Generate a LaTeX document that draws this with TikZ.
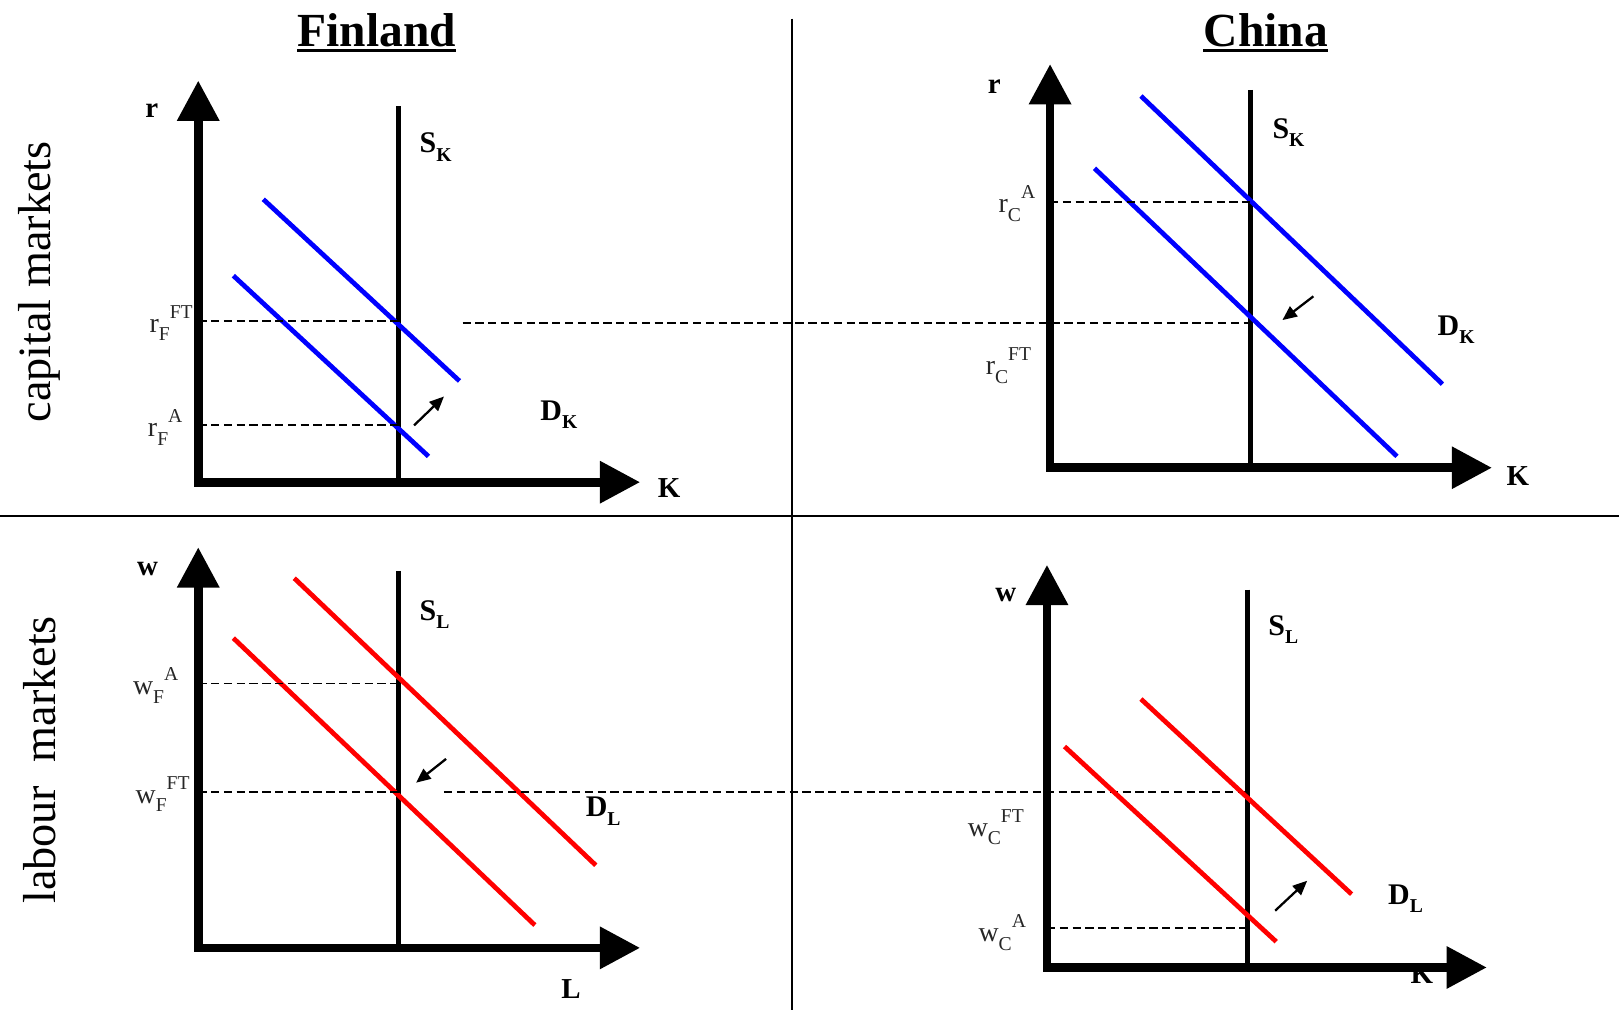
\documentclass[tikz,border=0pt]{standalone}
\usepackage{fontspec}
\setmainfont{Liberation Serif}
\usetikzlibrary{arrows.meta}

% price labels like r_F^FT, curve labels like S_K
\newcommand{\eqlab}[3]{#1\raisebox{-0.3em}{\fontsize{9.5}{9.5}\selectfont #2}\raisebox{0.5em}{\fontsize{9.5}{9.5}\selectfont #3}}
\newcommand{\crvlab}[2]{#1\raisebox{-0.28em}{\fontsize{9.5}{9.5}\selectfont #2}}

\tikzset{
  axes/.style={line width=4.2pt, line join=miter,
    {Triangle[length=19.5pt,width=19.5pt]}-{Triangle[length=19.5pt,width=19.5pt]}},
  supply/.style={line width=2.3pt},
  demK/.style={line width=2.3pt, draw=blue},
  demL/.style={line width=2.3pt, draw=red},
  guide/.style={line width=0.9pt, dash pattern=on 4pt off 2.2pt},
  shiftarr/.style={line width=1.1pt, -{Triangle[length=7pt,width=6pt]}},
  divider/.style={line width=0.8pt},
  title/.style={font=\fontsize{23}{26}\selectfont\bfseries, inner sep=0pt},
  sidelab/.style={font=\fontsize{22.4}{24}\selectfont, rotate=90, inner sep=0pt},
  axlab/.style={font=\fontsize{14}{16}\selectfont\bfseries, inner sep=0pt},
  crv/.style={font=\fontsize{14.5}{16}\selectfont\bfseries, inner sep=0pt, anchor=base west},
  price/.style={font=\fontsize{13.5}{15}\selectfont, inner sep=0pt, anchor=base east, text=black!85}
}

\begin{document}
\begin{tikzpicture}[x=0.5pt, y=-0.5pt]
    \useasboundingbox (0,0) rectangle (1568,978);

    % quadrant dividers
    \draw[divider] (767,18) -- (767,978);
    \draw[divider] (0,500) -- (1568,500);

    % titles
    \node[title] (fin) at (365,29) {Finland};
    \node[title] (chn) at (1226,29) {China};
    \draw[line width=1.7pt] ([yshift=-1.6pt]fin.south west) -- ([yshift=-1.6pt]fin.south east);
    \draw[line width=1.7pt] ([yshift=-1.6pt]chn.south west) -- ([yshift=-1.6pt]chn.south east);
    \node[sidelab] (capm) at (38,273) {capital markets};
    \node[sidelab] (labm) at (38,736) {labour\ \ markets};

    % Finland, capital market
    \draw[axes] (192,78) -- (192,467) -- (620,467);
    \node[axlab] (rF) at (147,107) {r};
    \node[axlab] (KF) at (648,473) {K};
    \draw[supply] (386,103) -- (386,467);
    \node[crv] (SKF) at (406,148) {\crvlab{S}{K}};
    \draw[demK] (255,193) -- (445,369);
    \draw[demK] (226,267) -- (415,442);
    \draw[guide] (192,311) -- (386,311);
    \draw[guide] (192,412) -- (386,412);
    \node[price] (rFFT) at (187,322) {\eqlab{r}{F}{FT}};
    \node[price] (rFA) at (177,423) {\eqlab{r}{F}{A}};
    \draw[shiftarr] (401,412) -- (430,384);
    \node[crv] (DKF) at (523,407) {\crvlab{D}{K}};

    % world interest rate under free trade
    \draw[guide] (448,313) -- (1211,313);

    % China, capital market
    \draw[axes] (1017,62) -- (1017,453) -- (1445,453);
    \node[axlab] (rC) at (963,84) {r};
    \node[axlab] (KC) at (1470,461) {K};
    \draw[supply] (1211,87) -- (1211,453);
    \node[crv] (SKC) at (1232,134) {\crvlab{S}{K}};
    \draw[demK] (1105,93) -- (1397,372);
    \draw[demK] (1060,163) -- (1353,442);
    \draw[guide] (1017,196) -- (1211,196);
    \node[price] (rCA) at (1003,206) {\eqlab{r}{C}{A}};
    \node[price] (rCFT) at (999,363) {\eqlab{r}{C}{FT}};
    \draw[shiftarr] (1272,287) -- (1242,310);
    \node[crv] (DKC) at (1392,325) {\crvlab{D}{K}};

    % Finland, labour market
    \draw[axes] (192,530) -- (192,918) -- (620,918);
    \node[axlab] (wF) at (143,551) {w};
    \node[axlab] (LF) at (553,958) {L};
    \draw[supply] (386,553) -- (386,918);
    \node[crv] (SLF) at (406,601) {\crvlab{S}{L}};
    \draw[demL] (285,560) -- (577,838);
    \draw[demL] (226,618) -- (518,896);
    \draw[guide] (192,662) -- (386,662);
    \draw[guide] (192,767) -- (386,767);
    \node[price] (wFA) at (173,673) {\eqlab{w}{F}{A}};
    \node[price] (wFFT) at (184,778) {\eqlab{w}{F}{FT}};
    \draw[shiftarr] (432,735) -- (403,758);
    \node[crv] (DLF) at (567,791) {\crvlab{D}{L}};

    % world wage under free trade
    \draw[guide] (430,767) -- (1208,767);

    % China, labour market
    \node[axlab] (KCL) at (1377,943) {K};
    \draw[axes] (1014,547) -- (1014,937) -- (1440,937);
    \node[axlab] (wC) at (974,576) {w};
    \draw[supply] (1208,571) -- (1208,937);
    \node[crv] (SLC) at (1228,615) {\crvlab{S}{L}};
    \draw[demL] (1105,677) -- (1309,866);
    \draw[demL] (1031,723) -- (1236,912);
    \draw[guide] (1014,899) -- (1208,899);
    \node[price] (wCFT) at (992,810) {\eqlab{w}{C}{FT}};
    \node[price] (wCA) at (994,912) {\eqlab{w}{C}{A}};
    \draw[shiftarr] (1235,882) -- (1266,853);
    \node[crv] (DLC) at (1344,876) {\crvlab{D}{L}};
\end{tikzpicture}
\end{document}
